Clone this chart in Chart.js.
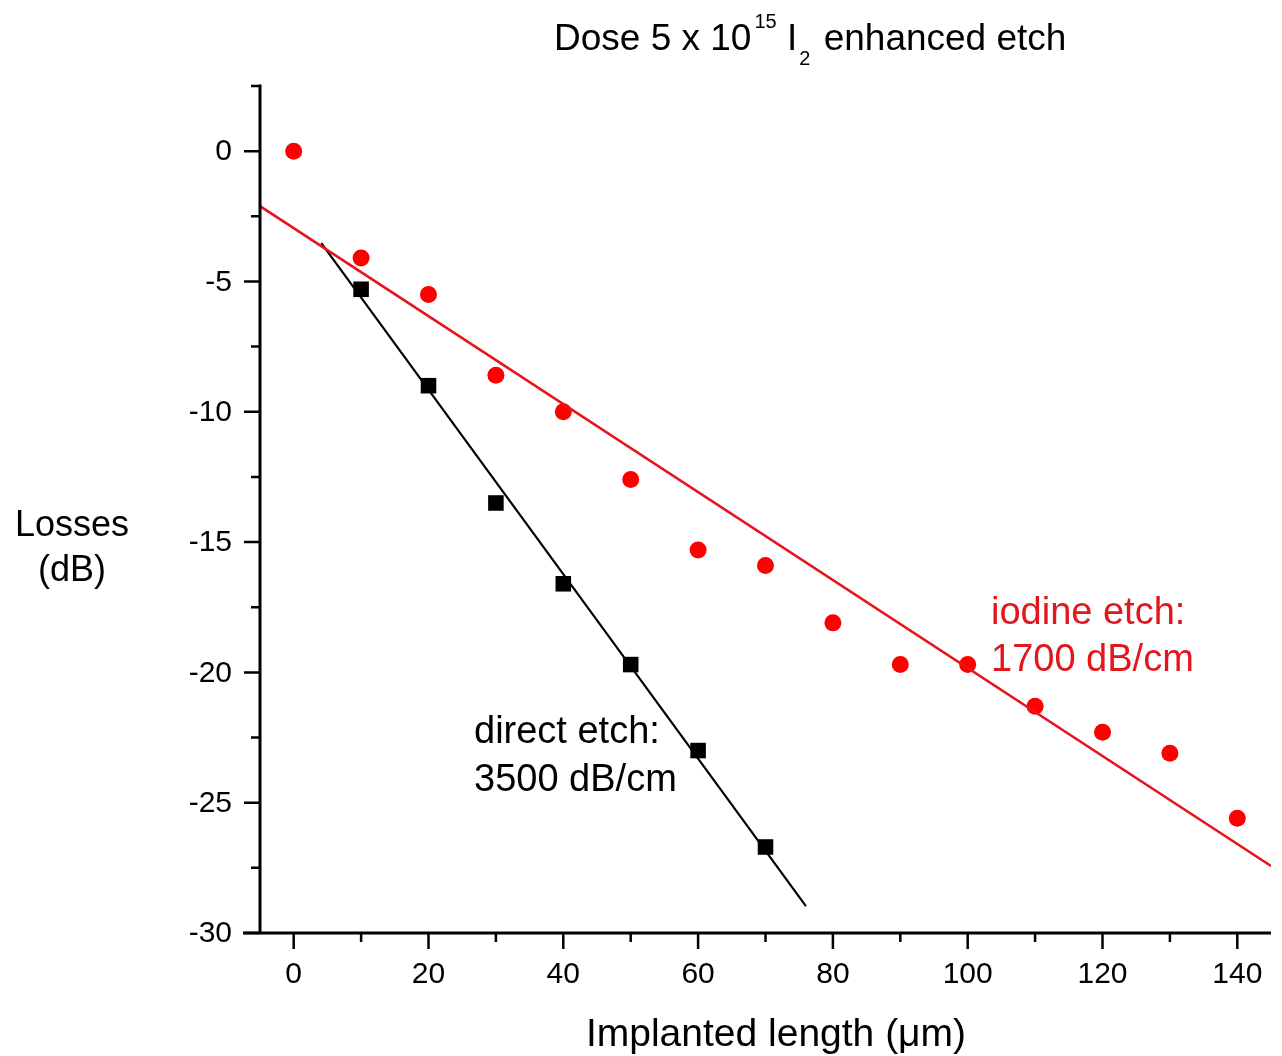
<!DOCTYPE html>
<html><head><meta charset="utf-8">
<script src="https://cdn.jsdelivr.net/npm/chart.js@4.4.0/dist/chart.umd.min.js"></script>
<style>html,body{margin:0;padding:0;background:#fff;}#wrap{width:1282px;height:1056px;}</style>
</head><body><div id="wrap"><canvas id="c" width="1282" height="1056"></canvas></div>
<script>
// Data
const lengths = [0,10,20,30,40,50,60,70,80,90,100,110,120,130,140];
const iodineLosses = [0,-4.1,-5.5,-8.6,-10,-12.6,-15.3,-15.9,-18.1,-19.7,-19.7,-21.3,-22.3,-23.1,-25.6];
const directLengths = [10,20,30,40,50,60,70];
const directLosses = [-5.3,-9,-13.5,-16.6,-19.7,-23,-26.7];
const iodineFitX = [-5,145];
const iodineFitY = [-2.11,-27.43];
const directFitX = [4.1,76];
const directFitY = [-3.53,-28.97];
const xMajorTicks = [0,20,40,60,80,100,120,140];
const xMinorTicks = [10,30,50,70,90,110,130];
const yMajorTicks = [0,-5,-10,-15,-20,-25,-30];
const yMinorTicks = [2.5,-2.5,-7.5,-12.5,-17.5,-22.5,-27.5];

const pts = (xs, ys) => xs.map((x,i)=>({x:x,y:ys[i]}));
const FONT = '"Liberation Sans", Arial, sans-serif';
const RED_TEXT = '#e3161d';

const axesPlugin = {
  id:'axesPlugin',
  afterDraw(chart){
    const ctx = chart.ctx, xs = chart.scales.x, ys = chart.scales.y;
    const ca = chart.chartArea;
    ctx.save();
    ctx.strokeStyle = '#000'; ctx.fillStyle = '#000';
    ctx.lineWidth = 3; ctx.lineCap = 'butt';
    // axis lines
    ctx.beginPath();
    ctx.moveTo(ca.left, ys.getPixelForValue(2.5) - 1.5);
    ctx.lineTo(ca.left, ca.bottom + 1.5);
    ctx.moveTo(ca.left - 17, ca.bottom);
    ctx.lineTo(ca.right, ca.bottom);
    ctx.stroke();
    // ticks
    ctx.lineWidth = 2.5;
    ctx.beginPath();
    xMajorTicks.forEach(v=>{const p=xs.getPixelForValue(v);ctx.moveTo(p,ca.bottom);ctx.lineTo(p,ca.bottom+16);});
    xMinorTicks.forEach(v=>{const p=xs.getPixelForValue(v);ctx.moveTo(p,ca.bottom);ctx.lineTo(p,ca.bottom+9);});
    yMajorTicks.forEach(v=>{const p=ys.getPixelForValue(v);ctx.moveTo(ca.left,p);ctx.lineTo(ca.left-16,p);});
    yMinorTicks.forEach(v=>{const p=ys.getPixelForValue(v);ctx.moveTo(ca.left,p);ctx.lineTo(ca.left-9,p);});
    ctx.stroke();
    // tick labels
    ctx.font = '30px ' + FONT;
    ctx.textAlign = 'center'; ctx.textBaseline = 'middle';
    xMajorTicks.forEach(v=>ctx.fillText(String(v), xs.getPixelForValue(v), ca.bottom+42));
    ctx.textAlign = 'right';
    yMajorTicks.forEach(v=>ctx.fillText(String(v), ca.left-28, ys.getPixelForValue(v)+1));
    // axis titles
    ctx.textBaseline = 'alphabetic';
    ctx.textAlign = 'center';
    ctx.font = '39px ' + FONT;
    ctx.fillText('Implanted length (μm)', 776, 1046);
    ctx.font = '36px ' + FONT;
    ctx.fillText('Losses', 72, 536);
    ctx.fillText('(dB)', 72, 581);
    // annotations
    ctx.textAlign = 'left';
    ctx.font = '38px ' + FONT;
    ctx.fillText('direct etch:', 474, 743);
    ctx.fillText('3500 dB/cm', 474, 791);
    ctx.fillStyle = RED_TEXT;
    ctx.fillText('iodine etch:', 991, 624);
    ctx.fillText('1700 dB/cm', 991, 671);
    // title with super/subscripts
    ctx.fillStyle = '#000';
    const parts = [
      ['Dose 5 x 10', 37, 0, 3],
      ['15', 20, -22, 0],
      [' I', 37, 0, 2],
      ['2', 20, 15, 3],
      [' enhanced etch', 37, 0, 0]
    ];
    let x = 554; const base = 50;
    parts.forEach(([t,s,dy,gap])=>{
      ctx.font = s + 'px ' + FONT;
      ctx.fillText(t, x, base + dy);
      x += ctx.measureText(t).width + gap;
    });
    ctx.restore();
  }
};

new Chart(document.getElementById('c'), {
  type:'scatter',
  data:{datasets:[
    {label:'iodine fit', data:pts(iodineFitX, iodineFitY), showLine:true, borderColor:'#e8141b', borderWidth:2.5, pointRadius:0, fill:false},
    {label:'direct fit', data:pts(directFitX, directFitY), showLine:true, borderColor:'#000', borderWidth:2.2, pointRadius:0, fill:false},
    {label:'iodine etch', data:pts(lengths, iodineLosses), pointStyle:'circle', pointRadius:8.5, backgroundColor:'#ff0000', borderColor:'#ff0000', borderWidth:0},
    {label:'direct etch', data:pts(directLengths, directLosses), pointStyle:'rect', pointRadius:11, backgroundColor:'#000', borderColor:'#000', borderWidth:0}
  ]},
  options:{
    responsive:false, animation:false,
    layout:{padding:{left:260, right:4, top:86, bottom:123}},
    plugins:{legend:{display:false}, tooltip:{enabled:false}, title:{display:false}},
    scales:{
      x:{type:'linear', min:-5, max:145, display:false},
      y:{type:'linear', min:-30, max:2.5, display:false}
    }
  },
  plugins:[axesPlugin]
});
</script></body></html>
